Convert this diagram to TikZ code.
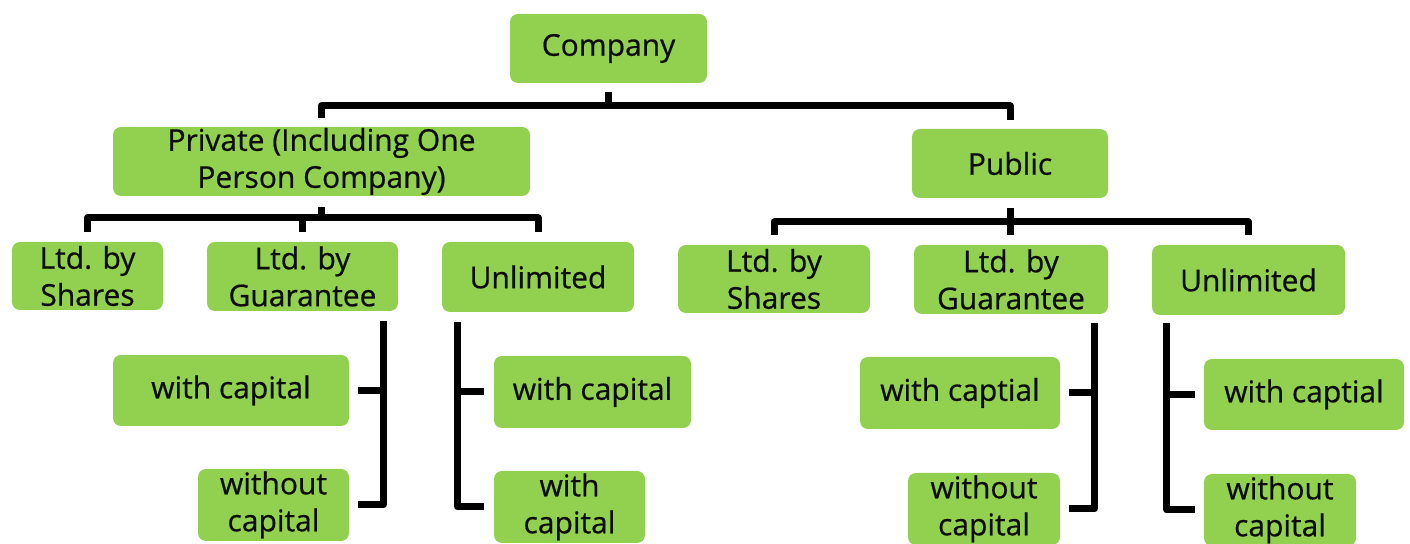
\documentclass[tikz,border=0pt]{standalone}
\usepackage{fontspec}
\setmainfont{Open Sans}
\newfontfamily\boxfont{Open Sans}[FakeBold=0.6]
\usetikzlibrary{calc}
\definecolor{boxgreen}{HTML}{92D050}
\definecolor{inkc}{HTML}{0D0D0D}
\begin{document}
\begin{tikzpicture}[x=0.5pt,y=-0.5pt,
  box/.style={fill=boxgreen, rounded corners=4pt, inner sep=0pt, align=center,
    font=\boxfont\fontsize{15}{18.5}\selectfont, text=inkc},
  conn/.style={line width=3.5pt, line join=round, draw=black}]
\useasboundingbox (0,0) rectangle (1410,544);
\clip (0,0) rectangle (1410,544);
% boxes
\node[box, minimum width=98.5pt, minimum height=34.5pt] (comp) at (608.5,48.5) {Company};
\node[box, minimum width=208.5pt, minimum height=34.5pt] (priv) at (321.5,161.5) {Private (Including One\\Person Company)};
\node[box, minimum width=98pt, minimum height=34.5pt] (pub) at (1010,163.5) {Public};
\node[box, minimum width=75.5pt, minimum height=34pt] (pls) at (87.5,276) {Ltd. by\\Shares};
\node[box, minimum width=95.5pt, minimum height=34.5pt] (plg) at (302.5,276.5) {Ltd. by\\Guarantee};
\node[box, minimum width=96pt, minimum height=35pt] (plu) at (538,277) {Unlimited};
\node[box, minimum width=96pt, minimum height=34pt] (bls) at (774,279) {Ltd. by\\Shares};
\node[box, minimum width=97pt, minimum height=34.5pt] (blg) at (1011,279.5) {Ltd. by\\Guarantee};
\node[box, minimum width=96.5pt, minimum height=35pt] (blu) at (1248.5,280) {Unlimited};
\node[box, minimum width=118pt, minimum height=35.5pt] (pgw) at (231,390.5) {with capital};
\node[box, minimum width=75.5pt, minimum height=36pt] (pgo) at (273.5,505) {without\\capital};
\node[box, minimum width=98.5pt, minimum height=36pt] (puw) at (592.5,392) {with capital};
\node[box, minimum width=75.5pt, minimum height=36pt] (puo) at (569.5,507) {with\\capital};
\node[box, minimum width=100pt, minimum height=36pt] (bgw) at (960,393) {with captial};
\node[box, minimum width=76pt, minimum height=36pt] (bgo) at (984,509) {without\\capital};
\node[box, minimum width=100pt, minimum height=35.5pt] (buw) at (1304,394.5) {with captial};
\node[box, minimum width=76pt, minimum height=36pt] (buo) at (1280,510) {without\\capital};
% top bracket
\coordinate (b1) at (608,106);
\draw[conn, shorten <=4.5pt] (comp.south) -- (comp.south |- b1);
\draw[conn, shorten <=4.5pt, shorten >=4.5pt] (priv.north) |- (b1) -| (pub.north);
% private bracket
\coordinate (b2) at (321,218);
\draw[conn, shorten <=5.5pt] (priv.south) -- (priv.south |- b2);
\draw[conn, shorten <=5pt, shorten >=5pt] (pls.north) |- (b2) -| (plu.north);
\draw[conn, shorten <=5pt] (plg.north) -- (plg.north |- b2);
% public bracket
\coordinate (b3) at (1010,222);
\draw[conn, shorten <=5pt, shorten >=5pt] (bls.north) |- (b3) -| (blu.north);
\draw[conn, shorten <=5pt, shorten >=5pt] (pub.south) -- (pub.south |- blg.north);
% vertical brackets
\coordinate (v1) at ($(plg.south east)+(-15,10)$);
\draw[conn, shorten >=4.5pt] (v1) |- (pgo.east);
\draw[conn, shorten <=4.5pt] (pgw.east) -- (pgw.east -| v1);
\coordinate (v2) at ($(plu.south west)+(16,10)$);
\draw[conn, shorten >=5pt] (v2) |- (puo.west);
\draw[conn, shorten <=5pt] (puw.west) -- (puw.west -| v2);
\coordinate (v3) at ($(blg.south east)+(-14,9)$);
\draw[conn, shorten >=4.5pt] (v3) |- (bgo.east);
\draw[conn, shorten <=4.5pt] (bgw.east) -- (bgw.east -| v3);
\coordinate (v4) at ($(blu.south west)+(15,8)$);
\draw[conn, shorten >=4.5pt] (v4) |- (buo.west);
\draw[conn, shorten <=4.5pt] (buw.west) -- (buw.west -| v4);
\end{tikzpicture}
\end{document}
